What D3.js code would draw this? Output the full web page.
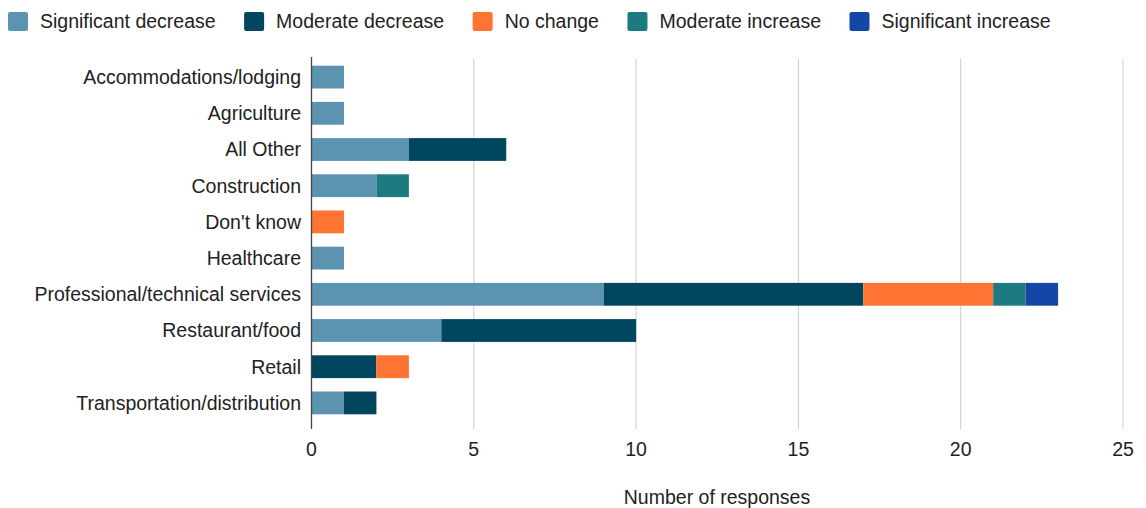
<!DOCTYPE html>
<html>
<head>
<meta charset="utf-8">
<script src="https://cdn.jsdelivr.net/npm/d3@7.9.0/dist/d3.min.js"></script>
<style>
  body { margin: 0; background: #fff; }
  svg { display: block; font-family: "Liberation Sans", Arial, sans-serif; }
</style>
</head>
<body>
<svg id="chart" width="1146" height="508"></svg>
<script>
const categories = ['Accommodations/lodging', 'Agriculture', 'All Other', 'Construction', "Don't know",
  'Healthcare', 'Professional/technical services', 'Restaurant/food', 'Retail', 'Transportation/distribution'];
const seriesNames = ['Significant decrease', 'Moderate decrease', 'No change', 'Moderate increase', 'Significant increase'];
const sigDecrease = [1, 1, 3, 2, 0, 1, 9, 4, 0, 1];
const modDecrease = [0, 0, 3, 0, 0, 0, 8, 6, 2, 1];
const noChange    = [0, 0, 0, 0, 1, 0, 4, 0, 1, 0];
const modIncrease = [0, 0, 0, 1, 0, 0, 1, 0, 0, 0];
const sigIncrease = [0, 0, 0, 0, 0, 0, 1, 0, 0, 0];
const xTicks = [0, 5, 10, 15, 20, 25];
const colors = ['#5b93b0', '#00465f', '#ff7433', '#1e7a81', '#1446a8'];

const rows = categories.map((c, i) => ({
  cat: c,
  'Significant decrease': sigDecrease[i],
  'Moderate decrease': modDecrease[i],
  'No change': noChange[i],
  'Moderate increase': modIncrease[i],
  'Significant increase': sigIncrease[i]
}));

const FS = 19.5;
const svg = d3.select('#chart');
const m = {left: 311.5, right: 1123, top: 59, bottom: 421};

const x = d3.scaleLinear().domain([0, 25]).range([m.left, m.right]);
const y = d3.scaleBand().domain(categories).range([m.top, m.bottom]).paddingInner(0.37).paddingOuter(0.185);
const color = d3.scaleOrdinal(seriesNames, colors);

// gridlines
svg.append('g')
  .selectAll('line')
  .data(xTicks.filter(d => d > 0))
  .join('line')
    .attr('x1', d => x(d)).attr('x2', d => x(d))
    .attr('y1', m.top).attr('y2', m.bottom + 8)
    .attr('stroke', '#cccccc').attr('stroke-width', 1);

// stacked bars
const stacked = d3.stack().keys(seriesNames)(rows);
svg.append('g')
  .selectAll('g')
  .data(stacked)
  .join('g')
    .attr('fill', d => color(d.key))
  .selectAll('rect')
  .data(d => d.filter(s => s[1] - s[0] > 0))
  .join('rect')
    .attr('x', d => x(d[0]))
    .attr('y', d => y(d.data.cat))
    .attr('width', d => x(d[1]) - x(d[0]))
    .attr('height', y.bandwidth());

// zero axis line
svg.append('line')
  .attr('x1', x(0)).attr('x2', x(0))
  .attr('y1', m.top - 2).attr('y2', m.bottom + 8)
  .attr('stroke', '#444').attr('stroke-width', 1.3);

// category labels
svg.append('g')
  .selectAll('text')
  .data(categories)
  .join('text')
    .attr('x', 301)
    .attr('y', d => y(d) + y.bandwidth() / 2)
    .attr('dy', '0.35em')
    .attr('text-anchor', 'end')
    .attr('font-size', FS)
    .attr('fill', '#222')
    .text(d => d);

// x tick labels
svg.append('g')
  .selectAll('text')
  .data(xTicks)
  .join('text')
    .attr('x', d => x(d))
    .attr('y', 449)
    .attr('dy', '0.35em')
    .attr('text-anchor', 'middle')
    .attr('font-size', FS)
    .attr('fill', '#222')
    .text(d => d);

svg.append('text')
  .attr('x', 717).attr('y', 497).attr('dy', '0.35em')
  .attr('text-anchor', 'middle')
  .attr('font-size', FS).attr('fill', '#222')
  .text('Number of responses');

// legend
const legend = svg.append('g');
let lx = 8;
seriesNames.forEach((s, i) => {
  const g = legend.append('g').attr('transform', `translate(${lx},0)`);
  g.append('rect')
    .attr('x', 0).attr('y', 12).attr('width', 20).attr('height', 19).attr('rx', 2)
    .attr('fill', colors[i]);
  const t = g.append('text')
    .attr('x', 32).attr('y', 21).attr('dy', '0.35em')
    .attr('font-size', FS).attr('fill', '#222')
    .text(s);
  lx += 32 + t.node().getComputedTextLength() + 28.5;
});
</script>
</body>
</html>
